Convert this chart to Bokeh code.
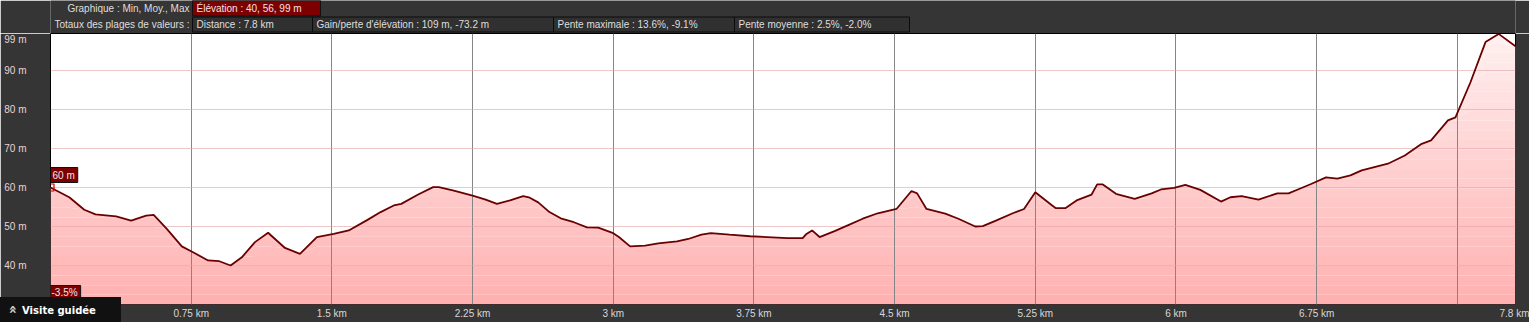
import numpy as np
from bokeh.plotting import figure
from bokeh.layouts import column
from bokeh.models import FixedTicker, Label, Range1d, Div
from bokeh.core.properties import value
from bokeh.embed import file_html
from bokeh.resources import INLINE

# ---- data ----
distance_km = [0.00, 0.10, 0.18, 0.24, 0.35, 0.43, 0.51, 0.55, 0.62, 0.70,
               0.76, 0.84, 0.90, 0.96, 1.02, 1.09, 1.16, 1.25, 1.33, 1.42,
               1.51, 1.59, 1.69, 1.76, 1.83, 1.87, 1.96, 2.04, 2.07, 2.15,
               2.25, 2.32, 2.38, 2.45, 2.52, 2.55, 2.60, 2.66, 2.72, 2.79,
               2.86, 2.92, 3.00, 3.03, 3.09, 3.17, 3.24, 3.34, 3.40, 3.47,
               3.52, 3.62, 3.73, 3.82, 3.93, 4.01, 4.03, 4.06, 4.10, 4.18,
               4.25, 4.33, 4.41, 4.51, 4.59, 4.62, 4.67, 4.77, 4.84, 4.93,
               4.97, 5.04, 5.13, 5.19, 5.25, 5.34, 5.36, 5.41, 5.47, 5.55,
               5.58, 5.61, 5.68, 5.78, 5.87, 5.92, 5.99, 6.05, 6.13, 6.24,
               6.29, 6.35, 6.44, 6.54, 6.60, 6.65, 6.72, 6.80, 6.86, 6.93,
               6.99, 7.13, 7.22, 7.31, 7.36, 7.45, 7.49, 7.57, 7.65, 7.72,
               7.81]
elevation_m = [60.0, 57.5, 54.3, 53.1, 52.6, 51.5, 52.8, 53.0, 49.4, 44.9,
               43.4, 41.3, 41.1, 40.0, 42.1, 46.0, 48.4, 44.5, 43.0, 47.3,
               48.1, 49.0, 51.7, 53.7, 55.4, 55.8, 58.2, 60.1, 60.1, 59.2,
               57.9, 56.9, 55.8, 56.7, 57.8, 57.5, 56.2, 53.7, 52.1, 51.1,
               49.8, 49.7, 48.3, 47.3, 44.9, 45.1, 45.7, 46.2, 46.8, 47.9,
               48.3, 47.9, 47.5, 47.3, 47.0, 47.0, 48.1, 49.0, 47.3, 48.8,
               50.3, 52.0, 53.4, 54.5, 59.1, 58.5, 54.5, 53.3, 52.0, 50.0,
               50.1, 51.5, 53.4, 54.5, 58.8, 55.4, 54.7, 54.7, 56.7, 58.2,
               60.8, 60.8, 58.4, 57.1, 58.5, 59.5, 59.9, 60.7, 59.4, 56.4,
               57.5, 57.8, 56.9, 58.5, 58.5, 59.5, 60.9, 62.6, 62.3, 63.1,
               64.4, 66.1, 68.2, 71.2, 72.1, 77.2, 78.0, 87.0, 97.3, 99.4,
               96.2]

total_km = 7.81
x_ticks = [0.75, 1.5, 2.25, 3.0, 3.75, 4.5, 5.25, 6.0, 6.75, total_km]
x_tick_labels = ["0.75 km", "1.5 km", "2.25 km", "3 km", "3.75 km", "4.5 km",
                 "5.25 km", "6 km", "6.75 km", "7.8 km"]
x_grid_ticks = [0.75, 1.5, 2.25, 3.0, 3.75, 4.5, 5.25, 6.0, 6.75, 7.5]
y_ticks = [40, 50, 60, 70, 80, 90, 99]
y_tick_labels = ["40 m", "50 m", "60 m", "70 m", "80 m", "90 m", "99 m"]
y_grid_ticks = [40, 50, 60, 70, 80, 90]

header1_title = "Graphique : Min, Moy., Max"
header1_box = "Élévation : 40, 56, 99 m"
header2_title = "Totaux des plages de valeurs :"
header2_boxes = ["Distance : 7.8 km",
                 "Gain/perte d'élévation : 109 m, -73.2 m",
                 "Pente maximale : 13.6%, -9.1%",
                 "Pente moyenne : 2.5%, -2.0%"]
start_slope = "-3.5%"

# ---- layout constants ----
W = 1529
HEAD_H = 33
MAIN_H = 322 - HEAD_H
BL, BR, BB = 50, 14, 18
Y0, Y1 = 30.0, 99.5
BG = "#353535"
FONT = "Liberation Sans"
TXT = "#dedede"

# ================= header strip =================
# (its frame is aligned with the profile frame, so x range = page pixels BL..W-BR)
h = figure(width=W, height=HEAD_H, output_backend="svg", toolbar_location=None,
           x_range=Range1d(BL, W - BR), y_range=Range1d(HEAD_H, 0),
           x_axis_type=None, y_axis_type=None,
           min_border_left=BL, min_border_right=BR, min_border_top=0,
           min_border_bottom=0,
           background_fill_color=BG, border_fill_color=BG,
           outline_line_color=None)
h.grid.visible = False

row1_y, row2_y = 7.5, 23.5
h.text(x=[189, 189], y=[row1_y, row2_y], text=[header1_title, header2_title],
       text_align="right", text_baseline="middle", text_font=value(FONT),
       text_font_size="10px", text_color=TXT)
h.quad(left=[192], right=[320], top=[0], bottom=[15.5], fill_color="#7d0000",
       line_color="#111111")
h.text(x=[196], y=[row1_y], text=[header1_box], text_align="left",
       text_baseline="middle", text_font=value(FONT), text_font_size="10px",
       text_color="#f2e2e2")
box_left = [192, 312, 553, 734]
box_right = [312, 553, 734, 909]
h.quad(left=box_left, right=box_right, top=[16.5] * 4, bottom=[31.5] * 4,
       fill_color="#303030", line_color="#0c0c0c")
h.text(x=[l + 4 for l in box_left], y=[row2_y] * 4, text=header2_boxes,
       text_align="left", text_baseline="middle", text_font=value(FONT),
       text_font_size="10px", text_color=TXT)

# ================= main profile =================
p = figure(width=W, height=MAIN_H, output_backend="svg", toolbar_location=None,
           x_range=Range1d(0, total_km), y_range=Range1d(Y0, Y1),
           min_border_left=BL, min_border_right=BR,
           min_border_top=0, min_border_bottom=BB,
           background_fill_color="white", border_fill_color=BG,
           outline_line_color="black", outline_line_width=1)

xs = np.array(distance_km)
ys = np.array(elevation_m)

# vertical gradient under the profile, built from stacked bands
nb = 28
edges = np.linspace(Y0, Y1, nb + 1)
c_bot = np.array([255, 176, 176])
c_top = np.array([255, 240, 240])
for i in range(nb):
    t = (i + 0.5) / nb
    c = (c_bot + (c_top - c_bot) * t).round().astype(int)
    col = "#%02x%02x%02x" % tuple(c)
    r = p.varea(x=xs, y1=np.minimum(ys, edges[i]), y2=np.minimum(ys, edges[i + 1]),
                fill_color=col)
    r.level = "image"

p.line(xs, ys, line_color="#6a0000", line_width=1.8)
p.scatter([xs[0]], [ys[0]], marker="square", size=7, fill_color=None,
          line_color="#d00000", line_width=1.2)

# grids
p.xgrid.ticker = FixedTicker(ticks=x_grid_ticks)
p.xgrid.grid_line_color = "#858585"
p.ygrid.ticker = FixedTicker(ticks=y_grid_ticks)
p.ygrid.grid_line_color = "#e3a3a3"
p.ygrid.grid_line_alpha = 0.6

# axes
p.xaxis.ticker = FixedTicker(ticks=x_ticks)
p.xaxis.major_label_overrides = dict(zip(x_ticks, x_tick_labels))
p.yaxis.ticker = FixedTicker(ticks=y_ticks)
p.yaxis.major_label_overrides = dict(zip(y_ticks, y_tick_labels))
for ax in (p.xaxis[0], p.yaxis[0]):
    ax.axis_line_color = None
    ax.major_tick_line_color = None
    ax.minor_tick_line_color = None
    ax.major_tick_in = 0
    ax.major_tick_out = 0
    ax.major_label_text_font = FONT
    ax.major_label_text_font_size = "10px"
p.xaxis.major_label_standoff = 3
p.xaxis.major_label_text_color = "#d8d8d8"
p.yaxis.major_label_standoff = 24
p.yaxis.major_label_text_color = "#ecd2d2"

frame_h = MAIN_H - BB


def Yd(py):  # pixel row inside main figure -> data y
    return Y0 + (frame_h - py) / frame_h * (Y1 - Y0)


# markers on the left edge
p.add_layout(Label(x=0, y=Yd(174.5 - HEAD_H), text="%d m" % round(elevation_m[0]),
                   text_align="left", text_baseline="middle", text_font=FONT,
                   text_font_size="10px", text_color="#f2e2e2",
                   background_fill_color="#7d0000", border_line_color="#111111",
                   padding=(2, 3, 2, 2)))
p.add_layout(Label(x=0, y=Yd(292 - HEAD_H), text=start_slope,
                   text_align="left", text_baseline="middle", text_font=FONT,
                   text_font_size="10px", text_color="#f2e2e2",
                   background_fill_color="#7d0000", border_line_color="#111111",
                   padding=(1, 3, 1, 2)))

# ================= guided tour button (overlay) =================
btn = Div(text='<span style="display:inline-block;transform:rotate(-90deg);'
               'font-size:14px;color:#cfcfcf;margin-right:5px;">»</span>'
               'Visite guidée',
          width=121, height=25, margin=(-25, 0, 0, 0),
          styles={"position": "relative", "z-index": "10",
                  "background-color": "#111111", "color": "white",
                  "font-family": "DejaVu Sans", "font-weight": "bold",
                  "font-size": "10px", "line-height": "25px",
                  "padding-left": "8px", "box-sizing": "border-box",
                  "overflow": "hidden", "white-space": "nowrap"})

layout = column(h, p, btn, spacing=0)
open("out.html", "w").write(file_html(layout, INLINE))
